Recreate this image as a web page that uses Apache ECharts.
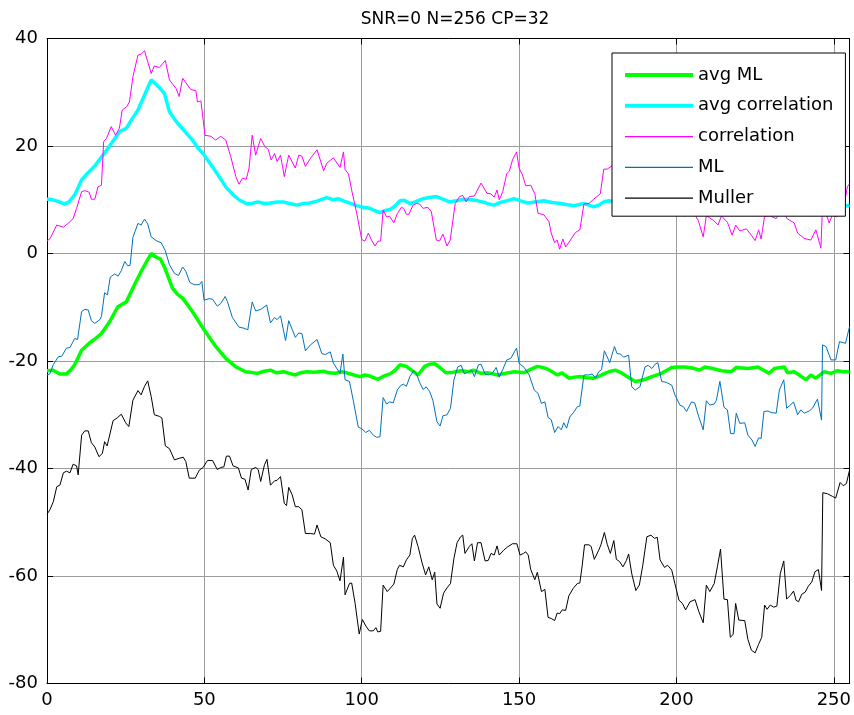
<!DOCTYPE html>
<html>
<head>
<meta charset="utf-8">
<title>SNR=0 N=256 CP=32</title>
<script src="https://cdn.jsdelivr.net/npm/echarts@6/dist/echarts.min.js"></script>
<style>
  html, body { margin: 0; padding: 0; background: #ffffff; }
  #chart { width: 854px; height: 715px; }
</style>
</head>
<body>
<div id="chart"></div>
<script>
// Axis settings
const xTicks = { min: 0, max: 255, interval: 50 };
const yTicks = { min: -80, max: 40, interval: 20 };
const titleText = 'SNR=0 N=256 CP=32';
const seriesNames = ['avg ML', 'avg correlation', 'correlation', 'ML', 'Muller'];

// avg ML: [sample index, metric]
const avgML = [
  [0,-21.8],[1.9,-21.7],[3,-22.1],[4.1,-22.4],[6.2,-22.4],[7.5,-21.7],[8.8,-20.7],[11,-18.0],[13.6,-16.6],[15.5,-15.8],
  [17.3,-14.9],[19.9,-12.7],[22.5,-9.9],[25.2,-9.0],[28.3,-5.2],[30.5,-2.7],[33.1,0],[34.7,-0.7],[36,-1.0],[37.3,-2.5],
  [39.9,-6.5],[41.5,-7.6],[43.1,-8.3],[46.2,-10.8],[49.9,-14.2],[53.6,-17.3],[56.8,-19.5],[60,-21.1],[63.1,-22.0],[64.5,-22.1],
  [66.8,-22.3],[69,-21.9],[71,-21.7],[73,-22.2],[75.2,-22.0],[77,-22.3],[78.9,-22.6],[80.5,-22.2],[82.6,-22.0],[85,-22.1],
  [87.9,-21.9],[89.5,-22.2],[91.6,-22.3],[93.5,-22.0],[95.2,-22.2],[97.5,-22.6],[99.5,-22.9],[101,-22.6],[102.6,-22.8],[105.2,-23.4],
  [107,-22.8],[109,-22.4],[110.5,-21.8],[112.1,-20.7],[114.2,-21.0],[116,-21.8],[117.9,-22.6],[120,-21.0],[121.5,-20.6],[123.2,-20.5],
  [125,-21.3],[126.8,-22.2],[129,-22.1],[131.6,-21.8],[134,-22.0],[135.5,-21.7],[137.9,-22.3],[140,-22.2],[143.2,-22.6],[145.5,-22.3],
  [148.5,-22.0],[151.6,-22.2],[153.5,-21.6],[155.8,-21.0],[157.5,-21.2],[159,-21.5],[162.2,-22.6],[163.7,-22.2],[165.8,-23.2],[167.5,-23.0],
  [169.5,-22.9],[171.5,-23.1],[173.7,-23.2],[175.5,-22.8],[176.9,-22.4],[178.5,-22.0],[180.6,-21.7],[182.5,-22.2],[184.3,-22.9],[186.9,-23.8],
  [189,-23.6],[190.5,-23.3],[192.2,-22.9],[195.3,-22.3],[198.5,-21.2],[200.5,-21.1],[202.7,-21.1],[205,-21.3],[207.4,-21.7],[209,-21.1],
  [211.5,-21.4],[214.3,-21.8],[217.4,-22.0],[219,-21.2],[222.7,-21.4],[225.9,-21.1],[228,-21.8],[229.5,-22.3],[231.1,-21.4],[234.3,-21.1],
  [235.3,-22.2],[237.4,-22.0],[239,-22.6],[241.2,-23.5],[242.7,-22.6],[244.3,-23.2],[246.9,-22.0],[249.1,-22.3],[251.2,-21.8],[253,-22.0],
  [255,-22.0]
];

// avg correlation
const avgCorrelation = [
  [0,10.1],[1,10.1],[3,9.8],[5.7,9.2],[7,9.6],[8.8,10.9],[11,13.7],[13,15],[15.2,16.3],[18.3,18.7],
  [20.5,20.5],[23.1,22.7],[25.2,23.3],[27,25],[28.9,26.7],[31,29.5],[33.1,32.3],[35,31.3],[37.3,29.8],[38.9,26.4],
  [40.5,25],[42,23.9],[44,22.6],[46.2,21.1],[48,19.6],[50,18.3],[52.5,16.2],[54.7,14.3],[56.8,12.4],[59,11],
  [61,10],[63.6,9.2],[65,9.3],[67,9.6],[69,9.3],[71,9.4],[73.1,9.6],[75,9.6],[77,9.3],[79.4,9.0],
  [81.5,9.3],[83.6,9.4],[86,9.8],[88.8,10.4],[91,10.0],[92.5,10.2],[94.2,9.8],[96,9.4],[98.3,8.9],[100.5,8.6],
  [102.6,8.4],[104,8.0],[105.8,7.6],[107.5,8.0],[109,8.2],[110.5,8.8],[112.1,9.8],[113.5,9.9],[115.3,9.3],[117,9.6],
  [119.5,10.2],[121.5,10.4],[123.7,10.6],[125.8,10.1],[127.9,9.6],[130,9.8],[132.6,10.1],[135,10.0],[137,9.8],[139,9.5],
  [140.5,9.2],[142.1,9.0],[144,9.5],[146,9.8],[148.4,10.2],[150.5,9.8],[152.7,9.4],[155,9.6],[157.9,9.8],[160.5,9.5],
  [163.2,9.3],[165,9.1],[167.4,8.9],[169,9.1],[170.6,9.3],[172.2,9.0],[173.7,8.7],[175.3,9.0],[176.9,9.6],[178.5,9.8],
  [182,9.5],[186,9.8],[190,9.3],[194,9.6],[198,10.0],[202,9.7],[206,9.4],[210,9.8],[214,9.5],[218,9.9],
  [222,9.6],[226,9.2],[230,9.5],[234,9.8],[238,9.4],[242,9.1],[246,9.3],[250,9.0],[252.5,8.9],[254.3,8.9],
  [255,9.0]
];

// correlation
const correlation = [
  [0,2.3],[1,2.8],[3.1,5.3],[5.2,4.9],[6.7,5.6],[8.3,6.5],[9.4,8.4],[11,11.5],[12,11.7],[13.4,11.4],
  [14.1,10.1],[15.2,10.1],[16.2,12.4],[17.3,12.7],[18,20.8],[18.9,21.4],[20.4,23.6],[21.8,22.0],[23,23.3],[23.9,26.7],
  [25.3,27.3],[26.2,28.2],[27.3,32.9],[28.9,36.9],[29.9,37.1],[31,37.7],[32,35.7],[33.1,33.5],[34.1,34.9],[35.7,34.6],
  [37.6,35.9],[38.9,32.3],[41,30.7],[42,29.2],[43.1,32.6],[45.7,30.5],[47.3,30.3],[47.8,28.2],[48.9,28.4],[50.2,22.0],
  [52.1,21.8],[53.6,21.1],[55.2,21.8],[56.8,21.1],[58.4,18.0],[60,14.3],[61,12.9],[62.1,14.0],[63.3,13.8],[64.2,15.9],
  [65.2,22.0],[66.3,18.3],[67.9,21.4],[69.2,19.9],[70.3,19.4],[71.2,17.4],[72.3,18.6],[73.1,17.1],[74.2,18.3],[75.4,14.3],
  [76.8,18.3],[78.9,15.9],[80,18.3],[81,18.1],[82.1,16.2],[83.7,17.7],[85.8,19.3],[87.9,15.4],[88.9,16.8],[91,17.8],
  [93.1,16.0],[94.2,18.9],[94.7,15.6],[95.8,14.8],[96.8,11.8],[98.4,7.5],[100,2.6],[101,2.3],[102.1,3.8],[103.1,2.5],
  [104.2,1.4],[105.2,2.3],[106,2.3],[106.8,8.1],[107.9,6.8],[108.9,6.9],[110.2,5.7],[111.3,7.4],[112.6,8.6],[113.3,8.4],
  [114.2,7.3],[115,7.3],[116.3,9.0],[117.4,9.3],[118.4,9.2],[119.5,8.4],[121,8.6],[122.1,7.8],[123.7,2.5],[124.7,2.3],
  [125.8,3.6],[127.1,1.4],[128.1,2.5],[129.7,9.3],[131.1,10.6],[132.1,10.8],[133.2,9.6],[134.2,10.6],[135.8,10.7],[137.9,13.1],
  [139.8,11.2],[141,11.1],[142.1,10.5],[143,11.8],[143.7,10.0],[144.8,11.5],[146.1,14.9],[146.9,15.3],[147.9,17.4],[149.2,18.9],
  [150,15.9],[151.1,14.6],[152.1,12.6],[153.7,12.7],[155,11.1],[156,7.5],[157.9,7.2],[159.5,5.9],[160.2,3.8],[161.3,2.0],
  [162.1,2.5],[162.9,0.8],[163.9,2.7],[164.8,1.2],[166.3,2.5],[167.9,3.9],[169.3,4.4],[170.6,9.2],[172.2,9.3],[173.7,10.1],
  [175.8,11.1],[176.9,15.7],[178,15.7],[180,16.5],[182,14.2],[184,17.0],[186,15.1],[188,12.8],[190,14.6],[192,11.9],
  [194,13.5],[196,10.8],[198,12.2],[200,9.6],[201.5,10.5],[202.7,6.9],[204.5,8.5],[206.9,6.2],[208.5,3.1],[209.5,7.0],
  [211.7,6.2],[213.2,5.3],[214.3,7.0],[216.2,5.8],[217.7,3.4],[218.8,5.3],[220.1,4.2],[222.2,4.6],[223.8,3.4],[225,2.4],
  [226.1,4.4],[226.9,2.7],[228,6.9],[229.6,7.0],[231.7,6.5],[233.5,8.5],[235.1,6.5],[237.4,5.7],[238.5,3.8],[240.6,2.8],
  [242.7,2.5],[244.3,4.4],[245.9,1.0],[246.4,8.7],[247.5,7.5],[248.5,5.7],[249.5,7.1],[251,6.8],[253.2,8.7],[254.3,12.4],
  [255,13.0]
];

// ML
const ml = [
  [0,-22.6],[0.9,-22.4],[2,-20.7],[3.6,-19.2],[4.7,-19.1],[6.2,-17.6],[7.3,-17.5],[8.1,-16.6],[8.8,-15.8],[9.7,-16.0],
  [11,-10.8],[12,-10.4],[13.1,-10.5],[14.1,-12.5],[15.2,-13.0],[16.8,-12.3],[17.3,-11.7],[18.3,-7.3],[19.2,-7.7],[20.1,-4.4],
  [21.5,-3.8],[22.6,-4.2],[23.6,-3.2],[24.7,-1.5],[25.7,-2.3],[26.4,-2.2],[27.3,3.0],[28.9,5.6],[29.9,5.3],[31,6.4],
  [32,5.5],[33.1,3.1],[34.7,2.4],[36.3,2.0],[37.6,0.5],[38.9,-2.1],[40.5,-3.7],[41.8,-4.1],[43.1,-2.5],[44.1,-3.3],
  [45.4,-5.4],[46.8,-5.8],[48.4,-5.8],[49.2,-5.2],[49.9,-8.7],[51.5,-8.4],[52.6,-8.5],[54.1,-9.8],[55.2,-9.3],[56.6,-8.0],
  [57.3,-8.9],[58.9,-11.9],[61,-13.7],[62.6,-13.9],[63.8,-14.2],[65.2,-9.0],[66.3,-10.7],[67.9,-10.4],[69.8,-9.6],[71,-12.9],
  [72.3,-11.9],[73.1,-12.3],[74.2,-11.6],[75.8,-16.2],[76.8,-12.5],[78.9,-15.6],[80,-14.8],[81,-14.9],[82.1,-18.1],[83.7,-17.0],
  [85.8,-16.0],[87.3,-18.6],[88.4,-18.8],[90,-18.3],[91,-20.4],[93.1,-22.3],[94,-18.7],[94.7,-23.5],[96.1,-23.8],[97.3,-27.3],
  [98.9,-32.3],[100,-32.6],[101.3,-33.3],[102.4,-32.9],[103.7,-33.8],[104.7,-34.2],[105.8,-34.1],[106.8,-26.8],[107.9,-28.0],[108.9,-27.6],
  [110,-27.8],[111.3,-25.4],[112.3,-24.6],[113.2,-24.3],[114.2,-24.7],[115.3,-22.9],[116.5,-21.8],[117.4,-22.4],[118.4,-24.0],[119.5,-25.3],
  [120.5,-24.8],[121.6,-25.7],[122.6,-27.3],[123.9,-31.3],[124.9,-32.1],[125.8,-30.2],[127.1,-30.0],[128.2,-28.8],[129.3,-23.5],[130.5,-21.1],
  [131.6,-20.8],[132.6,-22.4],[133.9,-22.0],[135,-21.8],[135.8,-22.9],[137.1,-20.7],[137.9,-20.6],[139.2,-22.4],[140.2,-22.6],[141.6,-22.2],
  [142.7,-21.2],[143.7,-23.0],[144.8,-21.6],[146.1,-19.8],[147.4,-19.5],[148.5,-18.3],[149.2,-17.6],[150,-20.4],[151.6,-21.2],[153.2,-22.6],
  [154.8,-25.4],[156,-26.0],[157.1,-27.9],[158.2,-27.6],[159.2,-30.5],[160.2,-30.9],[161.3,-33.3],[162.4,-32.2],[163.4,-32.8],[164.2,-31.5],
  [165.1,-32.5],[166.1,-30.4],[167.4,-29.5],[168.5,-28.5],[169.3,-28.4],[170.6,-22.6],[172.2,-22.6],[173.2,-22.4],[174.3,-23.2],[175.3,-22.0],
  [176.2,-21.6],[177.1,-18.1],[178.8,-20.3],[180.3,-17.3],[181.1,-18.6],[182.2,-18.7],[183.2,-19.3],[184.8,-18.9],[185.8,-24.8],[186.9,-25.4],
  [188.4,-24.8],[190,-21.1],[191,-20.8],[192.2,-21.4],[193.2,-20.6],[194.1,-20.3],[195.3,-23.8],[196.9,-24.0],[198.5,-24.5],[199.5,-26.3],
  [201.1,-28.2],[202.2,-28.5],[203.2,-29.4],[204.8,-27.6],[205.8,-27.8],[207.1,-30.4],[208.5,-32.8],[209.5,-27.4],[210.6,-28.2],[212,-28.0],
  [212.7,-27.3],[213.8,-23.8],[215.1,-28.6],[216.2,-29.1],[217.2,-33.5],[218.3,-33.5],[219,-29.7],[220.1,-31.6],[221.7,-31.5],[222.7,-33.8],
  [224,-34.7],[225,-35.9],[226.1,-34.3],[226.9,-34.4],[227.8,-29.4],[229.1,-29.3],[230.1,-29.6],[231.7,-29.7],[232.7,-25.4],[234.1,-23.5],
  [235,-28.8],[236.2,-28.2],[237.2,-27.6],[238.5,-30.0],[239.5,-29.1],[240.6,-29.7],[242.2,-29.3],[243.2,-28.8],[244.8,-27.1],[246.1,-31.0],
  [246.4,-17.0],[247.5,-17.3],[249.1,-19.8],[250.6,-19.8],[251.8,-16.4],[253.7,-16.7],[255,-13.6]
];

// Muller
const muller = [
  [0,-48.5],[0.9,-47.7],[2,-46.2],[3.1,-43.4],[4.1,-43.1],[5.2,-40.8],[6.2,-40.5],[7.3,-40.8],[8.3,-39.2],[9.4,-39.5],
  [9.9,-41.2],[11,-33.8],[12,-33.0],[13.1,-33.0],[14.1,-35.2],[15.2,-36.0],[16.5,-37.8],[17.6,-37.2],[18.3,-35.0],[19.1,-35.8],
  [21,-31.1],[22.3,-30.6],[23.6,-29.9],[25,-31.5],[26,-32.2],[27.3,-27.3],[28.9,-25.5],[29.9,-26.3],[31,-24.7],[32,-23.7],
  [33.1,-26.6],[34.1,-30.0],[35.7,-30.3],[36.5,-30.6],[37.6,-35.8],[38.9,-36.3],[40.5,-38.4],[42,-38.1],[43.3,-37.9],[44.1,-38.7],
  [45.2,-41.8],[47.1,-41.8],[48.4,-40.3],[49.6,-39.8],[51,-38.5],[52.6,-38.5],[54.1,-40.2],[55.2,-39.8],[56.2,-39.7],[57,-37.7],
  [58,-37.7],[59.1,-39.5],[60.8,-39.9],[61.8,-41.8],[62.9,-42.0],[63.9,-44.0],[64.9,-40.2],[66.3,-39.8],[67.1,-40.2],[67.9,-42.4],
  [69.1,-39.3],[69.9,-38.3],[71,-43.1],[72.3,-42.3],[73.1,-42.2],[74.2,-41.5],[75.4,-46.5],[76.1,-46.9],[76.8,-43.5],[77.9,-44.9],
  [78.9,-47.1],[80,-47.1],[81,-47.7],[82.1,-52.1],[83.7,-52.1],[85,-52.2],[85.8,-50.5],[87,-52.7],[88.4,-53.1],[90,-53.8],
  [91,-58.0],[92.1,-59.1],[93.1,-60.9],[94.2,-56.5],[94.7,-63.5],[96.1,-61.4],[96.8,-61.3],[97.9,-65.1],[99.2,-70.8],[100.2,-68.1],
  [101.3,-69.3],[102.4,-70.2],[103.7,-70.2],[104.5,-69.6],[105.1,-70.4],[106,-70.3],[106.8,-61.7],[108.1,-62.9],[108.9,-62.4],[110.2,-61.5],
  [111.3,-58.8],[112,-58.0],[113.2,-58.3],[114.2,-57.0],[115.3,-56.1],[116.1,-53.0],[116.8,-52.4],[117.9,-54.5],[119.2,-57.6],[120.3,-59.8],
  [121.3,-58.3],[122.4,-60.7],[123.2,-59.3],[123.9,-65.2],[124.9,-66.0],[126,-63.2],[127.1,-62.2],[128.2,-61.4],[129.3,-56.7],[130.3,-53.8],
  [131.4,-52.7],[132.1,-52.4],[132.8,-55.8],[134.2,-54.5],[135,-54.0],[135.8,-57.2],[136.8,-53.8],[137.9,-53.8],[139.2,-57.2],[140.2,-57.1],
  [141.1,-55.8],[142.1,-56.1],[143,-54.4],[143.7,-56.1],[145.1,-55.2],[146.3,-54.6],[147.9,-54.0],[149.3,-54.0],[150.3,-56.1],[151.4,-55.8],
  [152.1,-55.5],[152.9,-56.1],[153.7,-58.8],[155,-60.7],[155.8,-59.3],[157.1,-62.9],[158.2,-62.5],[159.2,-67.7],[160.2,-67.9],[161.3,-68.3],
  [162.1,-66.9],[162.9,-67.0],[163.7,-66.3],[164.8,-66.4],[165.8,-63.7],[167.2,-62.3],[168.5,-61.4],[169.3,-61.3],[170,-58.3],[170.8,-54.2],
  [172.2,-54.2],[172.9,-54.5],[173.9,-56.9],[175.3,-55.2],[176,-54.2],[177.1,-51.9],[178,-54.1],[179,-55.8],[180.1,-53.4],[180.9,-56.9],
  [181.9,-57.3],[183,-58.3],[184.1,-57.1],[184.8,-55.9],[185.8,-59.6],[187.1,-62.7],[188.2,-61.7],[189.3,-58.0],[190.6,-52.7],[191.9,-52.4],
  [193,-53.0],[193.9,-52.8],[194.8,-57.0],[196.2,-58.4],[197.2,-58.0],[198.5,-58.9],[199.5,-61.4],[200.8,-64.5],[201.9,-65.1],[202.9,-66.3],
  [204.3,-64.8],[205.9,-64.4],[207.1,-66.6],[208.5,-68.7],[209.5,-61.7],[210.6,-62.9],[212,-61.4],[213,-58.3],[214,-55.0],[215.1,-64.3],
  [216.2,-64.4],[217.1,-71.4],[218,-70.9],[218.8,-65.1],[219.8,-68.2],[221.7,-68.3],[222.7,-71.8],[223.8,-73.8],[225,-74.3],[226.1,-72.7],
  [227.1,-71.4],[228,-65.4],[228.8,-66.2],[229.8,-65.4],[230.9,-65.8],[231.9,-65.6],[233,-59.5],[234.1,-57.2],[235,-64.3],[236.2,-63.6],
  [237.2,-62.8],[238,-64.5],[238.8,-64.8],[239.8,-63.4],[240.9,-63.0],[241.9,-61.9],[243,-61.1],[244,-59.2],[245.1,-58.8],[246.1,-62.7],
  [246.5,-44.5],[248,-44.7],[249.6,-45.2],[250.6,-45.5],[252,-42.6],[253,-43.2],[254,-42.8],[255,-40.3]
];

const FONT = "'DejaVu Sans', Verdana, sans-serif";
const gridColor = '#9c9c9c';

// line swatches for the legend: a flat bar of the line's width
const thickSwatch = 'path://M0,0H68V4H0Z';
const thinSwatch = 'path://M0,0H68V1.2H0Z';

function lineSeries(name, data, color, width) {
  return {
    name: name,
    type: 'line',
    data: data,
    symbol: 'none',
    smooth: false,
    animation: false,
    lineStyle: { color: color, width: width },
    itemStyle: { color: color },
    emphasis: { disabled: true }
  };
}

const chart = echarts.init(document.getElementById('chart'), null, { renderer: 'canvas' });

const boxAxisX = (pos, showLabel) => ({
  type: 'value',
  position: pos,
  min: xTicks.min,
  max: xTicks.max,
  interval: xTicks.interval,
  axisLine: { show: true, onZero: false, lineStyle: { color: '#000', width: 1 } },
  axisTick: { show: true, inside: true, length: 6, lineStyle: { color: '#000' } },
  axisLabel: {
    show: showLabel, color: '#000', fontSize: 18, fontFamily: FONT, margin: 8,
    showMaxLabel: false
  },
  splitLine: { show: showLabel, lineStyle: { color: gridColor, width: 1 } }
});

const boxAxisY = (pos, showLabel) => ({
  type: 'value',
  position: pos,
  min: yTicks.min,
  max: yTicks.max,
  interval: yTicks.interval,
  axisLine: { show: true, onZero: false, lineStyle: { color: '#000', width: 1 } },
  axisTick: { show: true, inside: true, length: 6, lineStyle: { color: '#000' } },
  axisLabel: { show: showLabel, color: '#000', fontSize: 18, fontFamily: FONT, margin: 9 },
  splitLine: { show: showLabel, lineStyle: { color: gridColor, width: 1 } }
});

chart.setOption({
  backgroundColor: '#ffffff',
  animation: false,
  title: {
    text: titleText,
    left: 450,
    textAlign: 'center',
    top: 6,
    textStyle: { color: '#000', fontSize: 17, fontWeight: 'normal', fontFamily: FONT }
  },
  grid: { left: 47, right: 0.5, top: 38.5, bottom: 31.5, containLabel: false },
  xAxis: [boxAxisX('bottom', true), boxAxisX('top', false)],
  yAxis: [boxAxisY('left', true), boxAxisY('right', false)],
  legend: {
    data: [
      { name: 'avg ML', icon: thickSwatch },
      { name: 'avg correlation', icon: thickSwatch },
      { name: 'correlation', icon: thinSwatch },
      { name: 'ML', icon: thinSwatch },
      { name: 'Muller', icon: thinSwatch }
    ],
    orient: 'vertical',
    left: 612,
    top: 53,
    padding: [12, 12, 8, 13],
    itemGap: 10.8,
    itemWidth: 68,
    itemHeight: 20,
    backgroundColor: '#ffffff',
    borderColor: '#000',
    borderWidth: 1,
    borderRadius: 0,
    selectedMode: false,
    textStyle: { color: '#000', fontSize: 18, fontFamily: FONT, lineHeight: 20 }
  },
  series: [
    lineSeries('avg ML', avgML, '#00ff00', 3.5),
    lineSeries('avg correlation', avgCorrelation, '#00ffff', 3.5),
    lineSeries('correlation', correlation, '#ff00ff', 1),
    lineSeries('ML', ml, '#0072bd', 1),
    lineSeries('Muller', muller, '#000000', 1)
  ]
});
</script>
</body>
</html>
